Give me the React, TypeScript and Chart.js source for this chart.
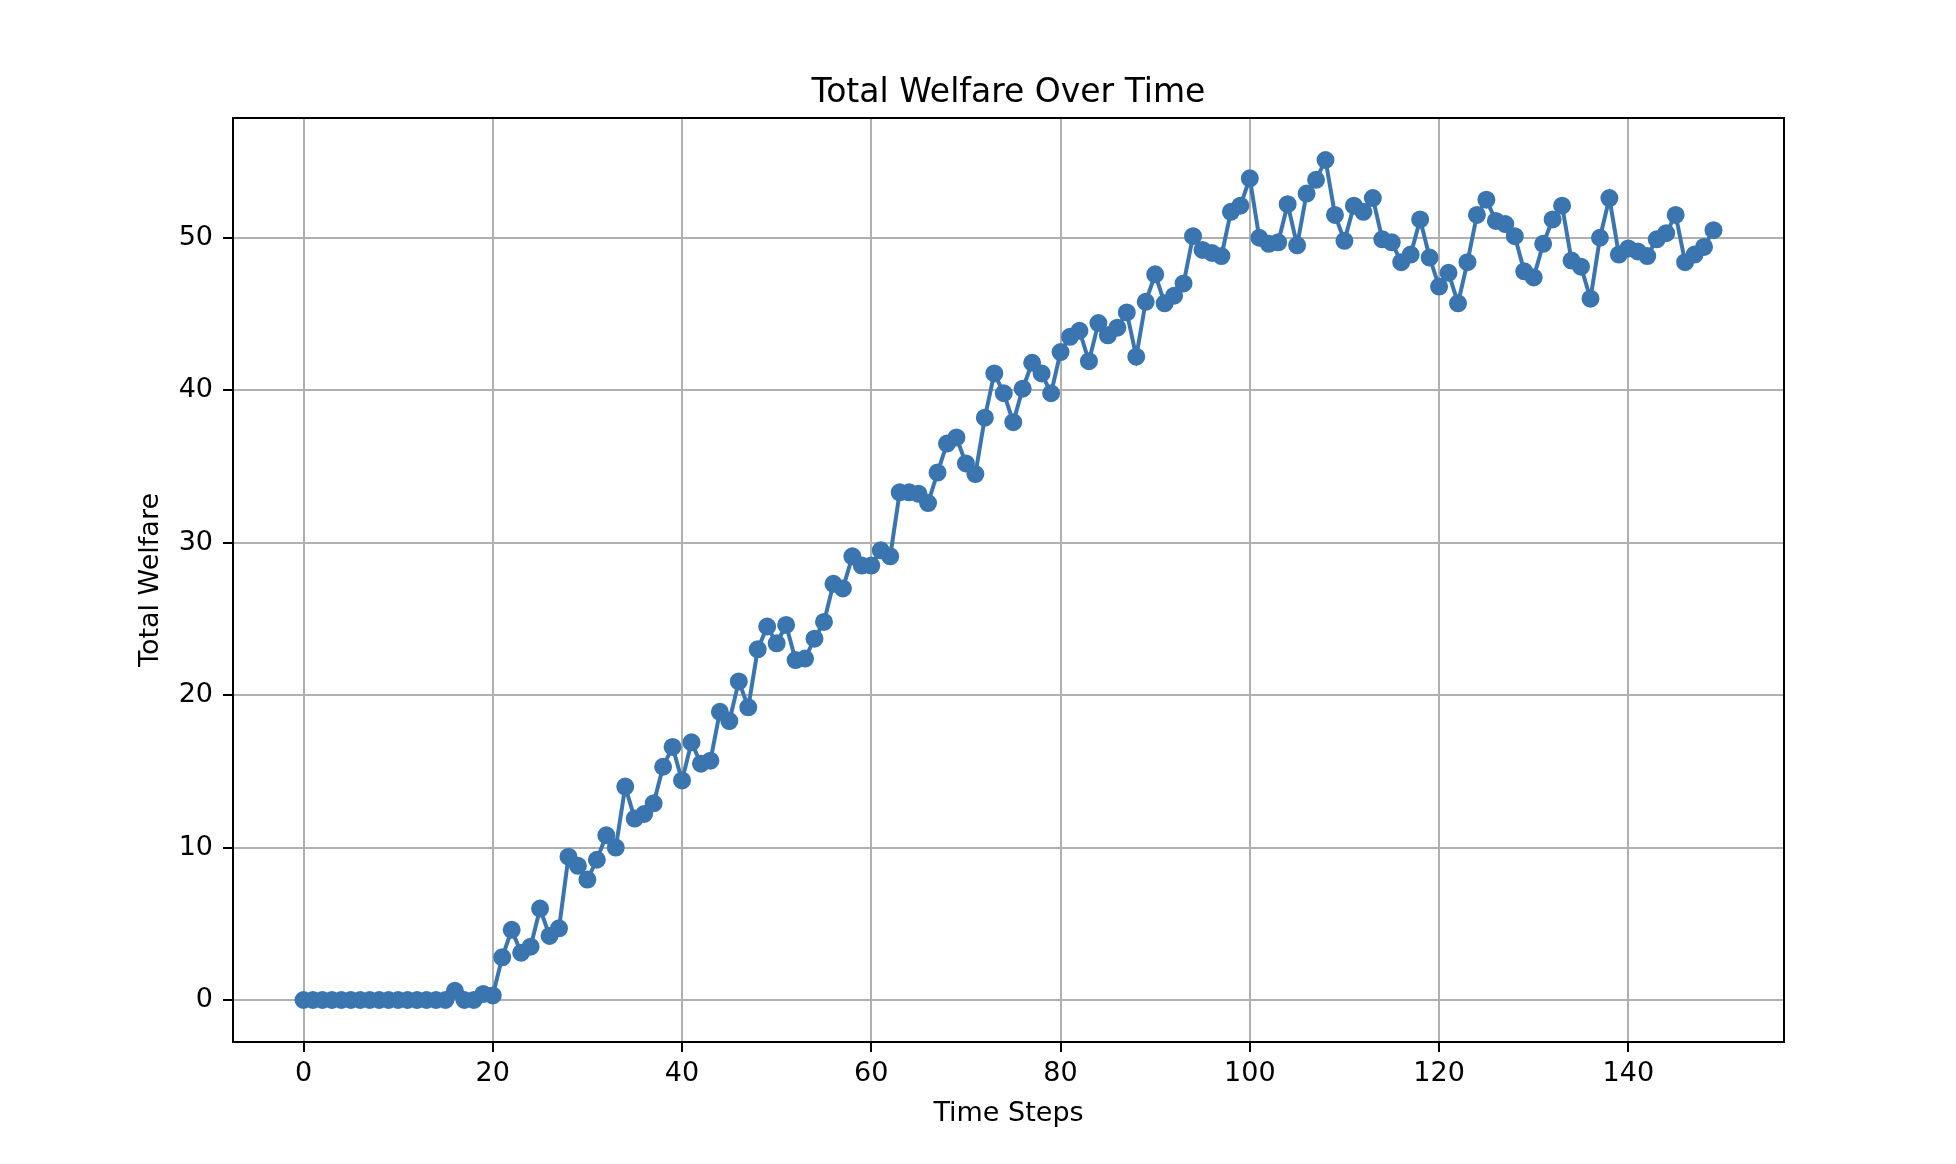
import React, { useEffect, useRef } from "react";
import { Chart, registerables } from "chart.js";

Chart.register(...registerables);

const TITLE = "Total Welfare Over Time";
const X_LABEL = "Time Steps";
const Y_LABEL = "Total Welfare";

const X_TICKS = [0, 20, 40, 60, 80, 100, 120, 140];
const Y_TICKS = [0, 10, 20, 30, 40, 50];

const WELFARE_STEPS_0_49 = [
  0, 0, 0, 0, 0, 0, 0, 0, 0, 0,
  0, 0, 0, 0, 0, 0, 0.6, 0.0, 0.0, 0.4,
  0.3, 2.8, 4.6, 3.1, 3.5, 6.0, 4.2, 4.7, 9.4, 8.8,
  7.9, 9.2, 10.8, 10.0, 14.0, 11.9, 12.2, 12.9, 15.3, 16.6,
  14.4, 16.9, 15.5, 15.7, 18.9, 18.3, 20.9, 19.2, 23.0, 24.5,
];
const WELFARE_STEPS_50_99 = [
  23.4, 24.6, 22.3, 22.4, 23.7, 24.8, 27.3, 27.0, 29.1, 28.5,
  28.5, 29.5, 29.1, 33.3, 33.3, 33.2, 32.6, 34.6, 36.5, 36.9,
  35.2, 34.5, 38.2, 41.1, 39.8, 37.9, 40.1, 41.8, 41.1, 39.8,
  42.5, 43.5, 43.9, 41.9, 44.4, 43.6, 44.1, 45.1, 42.2, 45.8,
  47.6, 45.7, 46.2, 47.0, 50.1, 49.2, 49.0, 48.8, 51.7, 52.1,
];
const WELFARE_STEPS_100_149 = [
  53.9, 50.0, 49.6, 49.7, 52.2, 49.5, 52.9, 53.8, 55.1, 51.5,
  49.8, 52.1, 51.7, 52.6, 49.9, 49.7, 48.4, 48.9, 51.2, 48.7,
  46.8, 47.7, 45.7, 48.4, 51.5, 52.5, 51.1, 50.9, 50.1, 47.8,
  47.4, 49.6, 51.2, 52.1, 48.5, 48.1, 46.0, 50.0, 52.6, 48.9,
  49.3, 49.1, 48.8, 49.9, 50.3, 51.5, 48.4, 48.9, 49.4, 50.5,
];

const WELFARE = [...WELFARE_STEPS_0_49, ...WELFARE_STEPS_50_99, ...WELFARE_STEPS_100_149];
const STEPS = WELFARE.map((_, i) => i);

const LINE_COLOR = "#3a75b0";
const FONT = "'DejaVu Sans', sans-serif";

const framePlugin = {
  id: "frame",
  afterDatasetsDraw(chart: any) {
    const { ctx, chartArea } = chart;
    ctx.save();
    ctx.strokeStyle = "#000";
    ctx.lineWidth = 2;
    ctx.strokeRect(chartArea.left, chartArea.top, chartArea.right - chartArea.left, chartArea.bottom - chartArea.top);
    ctx.restore();
  },
  afterDraw(chart: any) {
    const { ctx, chartArea } = chart;
    ctx.save();
    ctx.fillStyle = "#000";
    ctx.font = `33px ${FONT}`;
    ctx.textAlign = "center";
    ctx.textBaseline = "alphabetic";
    ctx.fillText(TITLE, (chartArea.left + chartArea.right) / 2, chartArea.top - 16);
    ctx.restore();
  },
};

export default function App() {
  const ref = useRef<HTMLCanvasElement | null>(null);

  useEffect(() => {
    document.body.style.margin = "0";
    const canvas = ref.current;
    if (!canvas) return;
    const xMin = Math.min(...STEPS);
    const xMax = Math.max(...STEPS);
    const yMin = Math.min(...WELFARE);
    const yMax = Math.max(...WELFARE);
    const xPad = (xMax - xMin) * 0.05;
    const yPad = (yMax - yMin) * 0.05;

    const chart = new Chart(canvas, {
      type: "line",
      data: {
        datasets: [
          {
            label: Y_LABEL,
            data: STEPS.map((s, i) => ({ x: s, y: WELFARE[i] })),
            borderColor: LINE_COLOR,
            backgroundColor: LINE_COLOR,
            borderWidth: 4,
            pointRadius: 8,
            pointBorderWidth: 2,
            pointBackgroundColor: LINE_COLOR,
            pointBorderColor: LINE_COLOR,
            tension: 0,
            fill: false,
          },
        ],
      },
      options: {
        responsive: false,
        animation: false,
        devicePixelRatio: 1,
        layout: { padding: { top: 118, left: 0, right: 172, bottom: 0 } },
        plugins: {
          legend: { display: false },
          tooltip: { enabled: false },
          title: { display: false, text: TITLE },
        },
        scales: {
          x: {
            type: "linear",
            min: xMin - xPad,
            max: xMax + xPad,
            afterBuildTicks: (s: any) => {
              s.ticks = X_TICKS.map((v) => ({ value: v }));
            },
            afterFit: (s: any) => {
              s.height = 122;
            },
            grid: {
              color: "#b0b0b0",
              lineWidth: 2,
              drawTicks: true,
              tickLength: 10,
              tickColor: "#000",
              tickWidth: 2,
            },
            border: { display: true, color: "#000", width: 2 },
            ticks: {
              color: "#000",
              font: { family: FONT, size: 27 },
              padding: 6,
              maxRotation: 0,
              autoSkip: false,
            },
            title: {
              display: true,
              text: X_LABEL,
              color: "#000",
              font: { family: FONT, size: 27 },
              padding: { top: 0, bottom: 34 },
            },
          },
          y: {
            type: "linear",
            min: yMin - yPad,
            max: yMax + yPad,
            afterBuildTicks: (s: any) => {
              s.ticks = Y_TICKS.map((v) => ({ value: v }));
            },
            afterFit: (s: any) => {
              s.width = 233;
            },
            grid: {
              color: "#b0b0b0",
              lineWidth: 2,
              drawTicks: true,
              tickLength: 10,
              tickColor: "#000",
              tickWidth: 2,
            },
            border: { display: true, color: "#000", width: 2 },
            ticks: {
              color: "#000",
              font: { family: FONT, size: 27 },
              padding: 10,
              autoSkip: false,
            },
            title: {
              display: true,
              text: Y_LABEL,
              color: "#000",
              font: { family: FONT, size: 27 },
              padding: { top: 135, bottom: 0 },
            },
          },
        },
      },
      plugins: [framePlugin],
    });
    return () => chart.destroy();
  }, []);

  return (
    <div style={{ width: 1956, height: 1164, background: "#fff" }}>
      <canvas ref={ref} width={1956} height={1164} style={{ display: "block" }} />
    </div>
  );
}
